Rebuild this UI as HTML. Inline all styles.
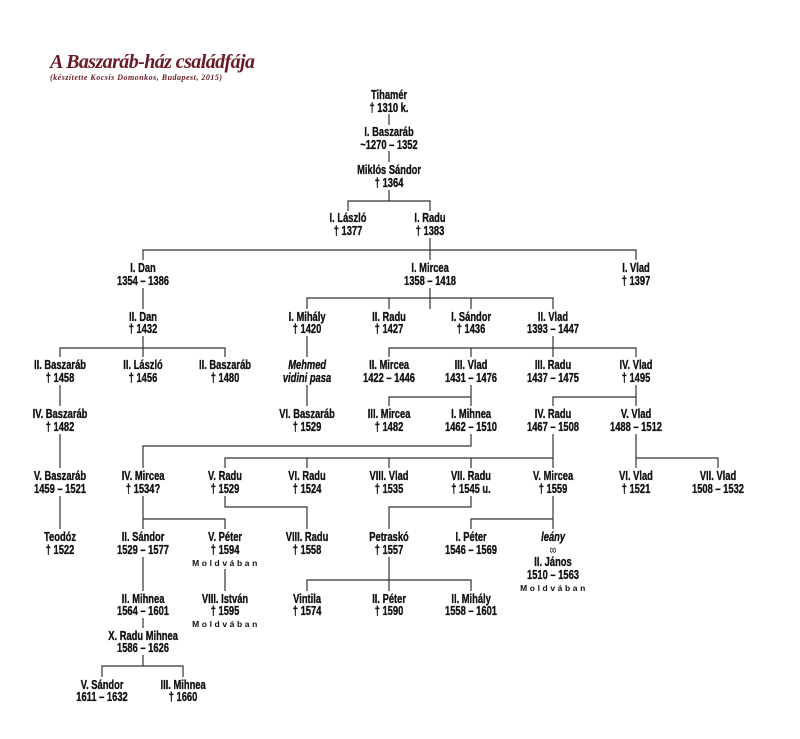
<!DOCTYPE html>
<html><head><meta charset="utf-8"><style>
html,body{margin:0;padding:0;background:#fff;}
svg{display:block;}
.n text{font-family:"Liberation Sans",sans-serif;font-weight:bold;font-size:13px;fill:#111;stroke:#111;stroke-width:0.35px;text-anchor:middle;transform-box:fill-box;transform-origin:center;transform:scaleX(0.72);}
.n text.i{font-style:italic;}
.m{font-family:"Liberation Sans","DejaVu Sans",sans-serif;font-weight:bold;font-size:8.5px;letter-spacing:2.6px;fill:#111;text-anchor:middle;}
line,polyline{stroke:#333;stroke-width:1.2;fill:none;}
</style></head><body>
<svg width="800" height="739" viewBox="0 0 800 739" xmlns="http://www.w3.org/2000/svg">
<text x="50" y="68" font-family="Liberation Serif,serif" font-style="italic" font-weight="bold" font-size="20" fill="#6b1a24" textLength="205">A Baszaráb-ház családfája</text>
<text x="50" y="80" font-family="Liberation Serif,serif" font-style="italic" font-weight="bold" font-size="8" fill="#6b1a24" textLength="172">(készítette Kocsis Domonkos, Budapest, 2015)</text>

<g>
<line x1="389" y1="114" x2="389" y2="125"/>
<line x1="389" y1="151" x2="389" y2="162"/>
<polyline points="389,190 389,201"/>
<polyline points="348,211 348,201 430,201 430,211"/>
<line x1="430" y1="238" x2="430" y2="260"/>
<polyline points="143,260 143,250 636,250 636,260"/>
<line x1="430" y1="288" x2="430" y2="309"/>
<polyline points="307,309 307,298 553,298 553,309"/>
<line x1="389" y1="298" x2="389" y2="309"/>
<line x1="471" y1="298" x2="471" y2="309"/>
<line x1="143" y1="288" x2="143" y2="309"/>
<line x1="143" y1="336" x2="143" y2="357"/>
<polyline points="60,357 60,348 225,348 225,357"/>
<line x1="553" y1="336" x2="553" y2="357"/>
<polyline points="389,357 389,348 636,348 636,357"/>
<line x1="471" y1="348" x2="471" y2="357"/>
<line x1="307" y1="336" x2="307" y2="357"/>
<line x1="307" y1="385" x2="307" y2="406"/>
<line x1="60" y1="385" x2="60" y2="406"/>
<line x1="471" y1="385" x2="471" y2="406"/>
<polyline points="389,406 389,397 471,397"/>
<line x1="636" y1="385" x2="636" y2="406"/>
<polyline points="553,406 553,397 636,397"/>
<line x1="60" y1="434" x2="60" y2="468"/>
<polyline points="471,434 471,446 143,446 143,468"/>
<line x1="553" y1="434" x2="553" y2="468"/>
<polyline points="225,468 225,458 553,458"/>
<line x1="307" y1="458" x2="307" y2="468"/>
<line x1="389" y1="458" x2="389" y2="468"/>
<line x1="471" y1="458" x2="471" y2="468"/>
<line x1="636" y1="434" x2="636" y2="468"/>
<polyline points="636,458 718,458 718,468"/>
<line x1="60" y1="496" x2="60" y2="529"/>
<line x1="143" y1="496" x2="143" y2="529"/>
<polyline points="143,519 225,519 225,529"/>
<polyline points="225,496 225,507 307,507 307,529"/>
<polyline points="471,496 471,507 389,507 389,529"/>
<line x1="553" y1="496" x2="553" y2="529"/>
<polyline points="553,519 471,519 471,529"/>
<line x1="143" y1="557" x2="143" y2="591"/>
<line x1="225" y1="569" x2="225" y2="591"/>
<line x1="389" y1="557" x2="389" y2="591"/>
<polyline points="307,591 307,580 471,580 471,591"/>
<line x1="143" y1="618" x2="143" y2="628"/>
<line x1="143" y1="655" x2="143" y2="666"/>
<polyline points="102,677 102,666 183,666 183,677"/>
</g>

<g class="n">
<text x="389" y="99">Tihamér</text><text x="389" y="112">† 1310 k.</text>
<text x="389" y="136">I. Baszaráb</text><text x="389" y="149">~1270 – 1352</text>
<text x="389" y="174">Miklós Sándor</text><text x="389" y="187">† 1364</text>
<text x="348" y="222">I. László</text><text x="348" y="235">† 1377</text>
<text x="430" y="222">I. Radu</text><text x="430" y="235">† 1383</text>

<text x="143" y="272">I. Dan</text><text x="143" y="285">1354 – 1386</text>
<text x="430" y="272">I. Mircea</text><text x="430" y="285">1358 – 1418</text>
<text x="636" y="272">I. Vlad</text><text x="636" y="285">† 1397</text>

<text x="143" y="321">II. Dan</text><text x="143" y="333">† 1432</text>
<text x="307" y="321">I. Mihály</text><text x="307" y="333">† 1420</text>
<text x="389" y="321">II. Radu</text><text x="389" y="333">† 1427</text>
<text x="471" y="321">I. Sándor</text><text x="471" y="333">† 1436</text>
<text x="553" y="321">II. Vlad</text><text x="553" y="333">1393 – 1447</text>

<text x="60" y="369">II. Baszaráb</text><text x="60" y="382">† 1458</text>
<text x="143" y="369">II. László</text><text x="143" y="382">† 1456</text>
<text x="225" y="369">II. Baszaráb</text><text x="225" y="382">† 1480</text>
<text x="307" y="369" class="i">Mehmed</text><text x="307" y="382" class="i">vidini pasa</text>
<text x="389" y="369">II. Mircea</text><text x="389" y="382">1422 – 1446</text>
<text x="471" y="369">III. Vlad</text><text x="471" y="382">1431 – 1476</text>
<text x="553" y="369">III. Radu</text><text x="553" y="382">1437 – 1475</text>
<text x="636" y="369">IV. Vlad</text><text x="636" y="382">† 1495</text>

<text x="60" y="418">IV. Baszaráb</text><text x="60" y="431">† 1482</text>
<text x="307" y="418">VI. Baszaráb</text><text x="307" y="431">† 1529</text>
<text x="389" y="418">III. Mircea</text><text x="389" y="431">† 1482</text>
<text x="471" y="418">I. Mihnea</text><text x="471" y="431">1462 – 1510</text>
<text x="553" y="418">IV. Radu</text><text x="553" y="431">1467 – 1508</text>
<text x="636" y="418">V. Vlad</text><text x="636" y="431">1488 – 1512</text>

<text x="60" y="480">V. Baszaráb</text><text x="60" y="493">1459 – 1521</text>
<text x="143" y="480">IV. Mircea</text><text x="143" y="493">† 1534?</text>
<text x="225" y="480">V. Radu</text><text x="225" y="493">† 1529</text>
<text x="307" y="480">VI. Radu</text><text x="307" y="493">† 1524</text>
<text x="389" y="480">VIII. Vlad</text><text x="389" y="493">† 1535</text>
<text x="471" y="480">VII. Radu</text><text x="471" y="493">† 1545 u.</text>
<text x="553" y="480">V. Mircea</text><text x="553" y="493">† 1559</text>
<text x="636" y="480">VI. Vlad</text><text x="636" y="493">† 1521</text>
<text x="718" y="480">VII. Vlad</text><text x="718" y="493">1508 – 1532</text>

<text x="60" y="541">Teodóz</text><text x="60" y="554">† 1522</text>
<text x="143" y="541">II. Sándor</text><text x="143" y="554">1529 – 1577</text>
<text x="225" y="541">V. Péter</text><text x="225" y="554">† 1594</text>
<text x="307" y="541">VIII. Radu</text><text x="307" y="554">† 1558</text>
<text x="389" y="541">Petraskó</text><text x="389" y="554">† 1557</text>
<text x="471" y="541">I. Péter</text><text x="471" y="554">1546 – 1569</text>
<text x="553" y="541" class="i">leány</text><text x="553" y="554" style="font-weight:normal;stroke:none">∞</text>
<text x="553" y="566">II. János</text><text x="553" y="579">1510 – 1563</text>

<text x="143" y="603">II. Mihnea</text><text x="143" y="615">1564 – 1601</text>
<text x="225" y="603">VIII. István</text><text x="225" y="615">† 1595</text>
<text x="307" y="603">Vintila</text><text x="307" y="615">† 1574</text>
<text x="389" y="603">II. Péter</text><text x="389" y="615">† 1590</text>
<text x="471" y="603">II. Mihály</text><text x="471" y="615">1558 – 1601</text>

<text x="143" y="640">X. Radu Mihnea</text><text x="143" y="652">1586 – 1626</text>
<text x="102" y="689">V. Sándor</text><text x="102" y="701">1611 – 1632</text>
<text x="183" y="689">III. Mihnea</text><text x="183" y="701">† 1660</text>
</g>
<g class="m">
<text x="226" y="566">Moldvában</text>
<text x="226" y="627">Moldvában</text>
<text x="554" y="591">Moldvában</text>
</g>
</svg>
</body></html>
